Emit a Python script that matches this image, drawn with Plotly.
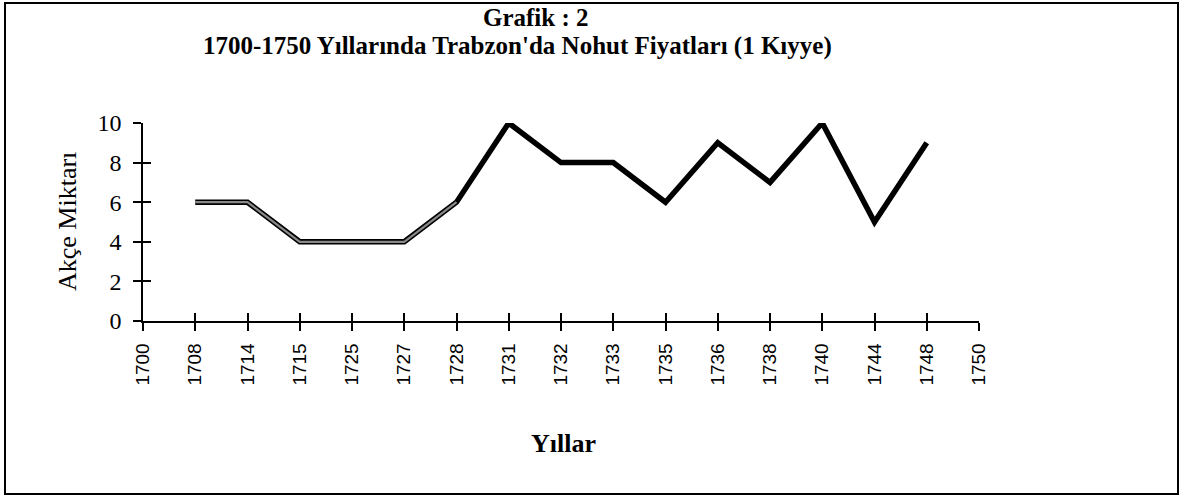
import plotly.graph_objects as go

years = ["1700", "1708", "1714", "1715", "1725", "1727", "1728", "1731", "1732",
         "1733", "1735", "1736", "1738", "1740", "1744", "1748", "1750"]
price_years = ["1708", "1714", "1715", "1725", "1727", "1728", "1731", "1732",
               "1733", "1735", "1736", "1738", "1740", "1744", "1748"]
prices = [6, 6, 4, 4, 4, 6, 10, 8, 8, 6, 9, 7, 10, 5, 9]
y_ticks = [0, 2, 4, 6, 8, 10]

W, H = 1181, 498
L, R, T, B = 143, 979, 123, 321  # plot area in px

serif = "Liberation Serif, Times New Roman, serif"
sans = "Liberation Sans, Arial, sans-serif"

fig = go.Figure()
fig.add_trace(go.Scatter(x=price_years, y=prices, mode="lines",
                         line=dict(color="black", width=5.5), showlegend=False,
                         hoverinfo="skip"))
fig.add_trace(go.Scatter(x=price_years[:6], y=prices[:6], mode="lines",
                         line=dict(color="#8a8a8a", width=2.2), showlegend=False,
                         hoverinfo="skip"))
fig.add_trace(go.Scatter(x=years, y=[None]*len(years), xaxis="x2", yaxis="y2",
                         showlegend=False, hoverinfo="skip"))

def px2px(x):
    return (x - L) / (R - L)

def py2p(y):
    return (B - y) / (B - T)

fig.update_layout(
    width=W, height=H,
    margin=dict(l=L, r=W - R, t=T, b=H - B, autoexpand=False),
    paper_bgcolor="white", plot_bgcolor="white",
    xaxis=dict(type="category", categoryorder="array", categoryarray=years,
               range=[0, 16], showgrid=False, zeroline=False,
               showline=True, linecolor="black", linewidth=1.5,
               ticks="outside", ticklen=8, tickwidth=1.5, tickcolor="black",
               ticklabelstandoff=5,
               tickangle=-90, tickfont=dict(family=sans, size=19, color="black"),
               automargin=False, title=None),
    xaxis2=dict(type="category", categoryorder="array", categoryarray=years,
                range=[0, 16], overlaying="x", anchor="y", showgrid=False,
                zeroline=False, showline=False, ticks="inside", ticklen=8,
                tickwidth=1.5, tickcolor="black", showticklabels=False,
                side="bottom"),
    yaxis=dict(range=[0, 10], tickvals=y_ticks, showgrid=False, zeroline=False,
               showline=True, linecolor="black", linewidth=1.5,
               ticks="outside", ticklen=8, tickwidth=1.5, tickcolor="black",
               ticklabelstandoff=7,
               tickfont=dict(family=serif, size=24, color="black"),
               automargin=False, title=None),
    yaxis2=dict(range=[0, 10], tickvals=y_ticks, overlaying="y", anchor="x",
                showgrid=False, zeroline=False, showline=False, ticks="inside",
                ticklen=8, tickwidth=1.5, tickcolor="black", showticklabels=False,
                side="left"),
    annotations=[
        dict(text="<b>Grafik : 2</b>", xref="paper", yref="paper",
             x=px2px(536), y=py2p(17), xanchor="center", yanchor="middle",
             showarrow=False, font=dict(family=serif, size=25, color="black")),
        dict(text="<b>1700-1750 Yıllarında Trabzon'da Nohut Fiyatları (1 Kıyye)</b>",
             xref="paper", yref="paper", x=px2px(517), y=py2p(46),
             xanchor="center", yanchor="middle", showarrow=False,
             font=dict(family=serif, size=25, color="black")),
        dict(text="Akçe Miktarı", xref="paper", yref="paper",
             x=px2px(67), y=py2p(222), xanchor="center", yanchor="middle",
             textangle=-90, showarrow=False,
             font=dict(family=serif, size=26, color="black")),
        dict(text="<b>Yıllar</b>", xref="paper", yref="paper",
             x=px2px(563), y=py2p(443), xanchor="center", yanchor="middle",
             showarrow=False, font=dict(family=serif, size=26, color="black")),
    ],
    shapes=[dict(type="rect", xref="paper", yref="paper",
                 x0=px2px(5), x1=px2px(1178), y0=py2p(494), y1=py2p(3),
                 line=dict(color="black", width=2))],
)

fig.write_html("out.html", config={"displayModeBar": False},
               post_script="document.body.style.margin='0';document.body.style.overflow='hidden';")
